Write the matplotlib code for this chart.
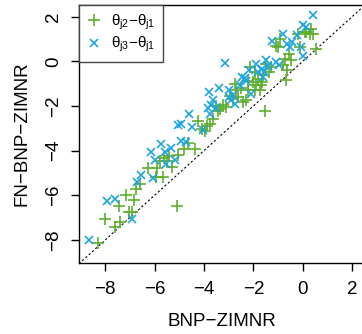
import matplotlib
matplotlib.use('Agg')
import matplotlib.pyplot as plt

# Points, (BNP-ZIMNR, FN-BNP-ZIMNR)
green_x = [-8.31, -8.0, -7.61, -7.38, -7.44, -7.17, -7.03, -6.83, -6.9, -6.76,
           -6.6, -6.25, -5.92, -5.65, -5.95, -5.6, -5.41, -5.05, -5.3, -5.09,
           -4.8, -4.64, -4.37, -4.24, -4.06, -3.87, -3.74, -3.63, -3.43, -3.36,
           -3.23, -3.09, -2.82, -2.69, -2.75, -2.62, -2.42, -2.28, -2.21, -2.15,
           -2.01, -1.94, -1.88, -1.81, -1.74, -1.67, -1.6, -1.51, -1.47, -1.36,
           -1.27, -1.07, -0.93, -1.0, -0.8, -0.73, -0.66, -0.63, -0.55, -0.46,
           -0.19, -0.12, 0.15, 0.28, 0.42, 0.55, 0.08, 0.35,
           -5.78, -5.5, -3.5, -2.95, -2.5, -1.95, -1.7, -3.95, -2.2]
green_y = [-8.13, -7.04, -7.42, -7.19, -6.48, -6.0, -6.75, -6.22, -6.75, -5.73,
           -5.48, -4.78, -4.78, -5.18, -5.18, -4.31, -4.25, -4.19, -4.73, -6.49,
           -3.94, -3.66, -3.91, -2.67, -3.01, -2.91, -2.79, -2.57, -2.24, -2.12,
           -1.97, -2.04, -1.67, -1.3, -1.0, -1.6, -1.82, -1.75, -1.3, -0.25,
           -0.93, -0.48, -1.07, -0.78, -1.3, -0.93, -0.63, -2.22, -0.1, -0.48,
           -0.25, 0.67, 1.02, 0.64, -0.18, 0.12, -0.85, -0.4, 0.34, 0.04,
           1.24, 0.64, 1.31, 1.2, 1.24, 0.57, 1.31, 1.46,
           -4.45, -4.45, -2.0, -1.55, -1.2, -1.3, -1.05, -3.1, -0.9]

blue_x = [-8.65, -7.92, -7.61, -6.91, -6.73, -6.53, -6.13, -5.99, -6.05, -5.72,
          -5.59, -5.52, -5.34, -5.18, -5.05, -4.91, -4.91, -4.74, -4.6, -4.47,
          -4.04, -3.79, -3.83, -3.77, -3.63, -3.39, -3.52, -3.13, -2.98, -2.89,
          -2.82, -2.75, -2.55, -2.44, -2.28, -2.17, -2.08, -1.9, -1.81, -1.67,
          -1.6, -1.47, -1.23, -1.09, -0.96, -0.8, -0.63, -0.53, -0.42, -0.22,
          -0.08, 0.01, -0.01, 0.12, 0.42, -3.7, -3.0, -2.35, -1.4, -1.55]
blue_y = [-8.01, -6.27, -6.15, -7.04, -5.4, -5.07, -4.06, -4.43, -5.22, -3.69,
          -4.06, -4.58, -3.88, -4.43, -2.84, -2.79, -3.58, -3.61, -2.34, -2.94,
          -3.09, -1.37, -2.07, -2.34, -1.75, -1.18, -2.07, -0.06, -1.3, -1.75,
          -1.52, -1.9, -1.07, -0.7, -0.9, -0.4, -1.45, -0.1, -0.48, -0.33,
          -0.7, 0.04, 0.91, -0.03, -0.18, 1.24, 0.79, 0.64, 0.87, 1.16,
          0.64, 0.22, 1.61, 1.54, 2.06, -1.95, -1.6, -0.75, -0.2, -0.5]

labels = [r'$\theta_{j2}$' + '\u2212' + r'$\theta_{j1}$',
          r'$\theta_{j3}$' + '\u2212' + r'$\theta_{j1}$']
x_ticks = [-8, -6, -4, -2, 0, 2]
y_ticks = [-8, -6, -4, -2, 0, 2]

GREEN = '#5fae2c'
BLUE = '#1ea5df'

plt.rcParams['font.family'] = ['Liberation Sans', 'DejaVu Sans']
plt.rcParams['mathtext.fontset'] = 'custom'
plt.rcParams['mathtext.rm'] = 'Liberation Sans'
plt.rcParams['mathtext.it'] = 'Liberation Sans'

fig = plt.figure(figsize=(3.62, 3.34), dpi=100)
ax = fig.add_axes([79 / 362, 71 / 334, 286 / 362, 258 / 334])

ax.plot([-10, 3], [-10, 3], color='black', lw=0.8, ls=(0, (2, 2)))
ax.plot(green_x, green_y, ls='none', marker='+', ms=8, mew=1.2,
        color=GREEN, label=labels[0])
ax.plot(blue_x, blue_y, ls='none', marker='x', ms=6, mew=1.2,
        color=BLUE, label=labels[1])

ax.set_xlim(-9.06, 2.52)
ax.set_ylim(-9.03, 2.52)
ax.set_xticks(x_ticks)
ax.set_yticks(y_ticks)
ax.set_xticklabels([str(t).replace('-', '\u2212') for t in x_ticks])
ax.set_yticklabels([str(t).replace('-', '\u2212') for t in y_ticks],
                   rotation=90, va='center')
ax.tick_params(direction='out', length=6, width=1, labelsize=13.5)
ax.tick_params(axis='x', pad=7)
ax.tick_params(axis='y', pad=6)
for sp in ax.spines.values():
    sp.set_linewidth(1)

ax.set_xlabel('BNP\u2212ZIMNR', fontsize=13.5, labelpad=11)
ax.set_ylabel('FN\u2212BNP\u2212ZIMNR', fontsize=13.5, labelpad=11)

leg = ax.legend(loc='upper left', borderaxespad=0, fancybox=False,
                framealpha=1, edgecolor='#444444', fontsize=11,
                handlelength=0.9, handletextpad=0.7, borderpad=0.5,
                labelspacing=0.2)
leg.get_frame().set_linewidth(1)

fig.savefig('out.png', dpi=100)
